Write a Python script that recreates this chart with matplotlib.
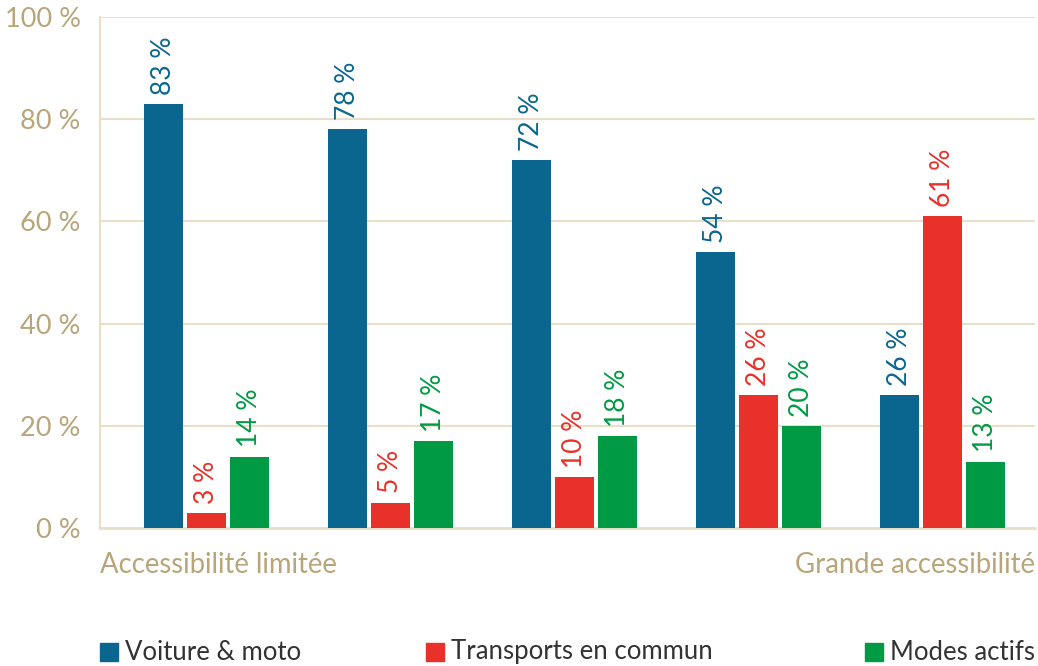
import matplotlib.pyplot as plt
from matplotlib.patches import Rectangle

plt.rcParams['font.family'] = ['Lato', 'DejaVu Sans']

# data
groups = [0, 1, 2, 3, 4]
series_names = ['Voiture & moto', 'Transports en commun', 'Modes actifs']
voiture = [83, 78, 72, 54, 26]
transports = [3, 5, 10, 26, 61]
actifs = [14, 17, 18, 20, 13]
yticks = [0, 20, 40, 60, 80, 100]

colors = ['#0b668f', '#e8312a', '#009a44']
beige = '#b9a57a'
grid = '#e8dfc8'

fig = plt.figure(figsize=(10.38, 6.66), dpi=100)
ax = fig.add_axes([0.0963, 0.207, 0.9007, 0.7675])

w = 0.212
off = 0.234
for i, (vals, c) in enumerate(zip([voiture, transports, actifs], colors)):
    xs = [g + (i - 1) * off for g in groups]
    ax.bar(xs, vals, width=w, color=c, zorder=3)
    for x, v in zip(xs, vals):
        ax.text(x, v + 1.8, f'{v} %', rotation=90, ha='center', va='bottom',
                color=c, fontsize=19, zorder=4)

ax.set_xlim(-0.58, 4.5)
ax.set_ylim(0, 100)
ax.set_yticks(yticks)
ax.set_yticklabels([f'{t} %' for t in yticks], color=beige, fontsize=19.5)
ax.set_xticks([])
ax.tick_params(axis='y', length=0, pad=14)
for t in yticks[1:]:
    ax.axhline(t, color=grid, lw=1.5, zorder=1)
for s in ['top', 'right']:
    ax.spines[s].set_visible(False)
ax.spines['left'].set_color(grid)
ax.spines['bottom'].set_color(grid)
ax.spines['left'].set_linewidth(1.5)
ax.spines['bottom'].set_linewidth(2)

fig.text(0.0963, 1 - 565 / 666, 'Accessibilité limitée', color=beige,
         fontsize=19.8, ha='left', va='center')
fig.text(0.997, 1 - 565 / 666, 'Grande accessibilité', color=beige,
         fontsize=19.8, ha='right', va='center')

# legend
leg_x = [100, 426, 865]
for name, c, lx in zip(series_names, colors, leg_x):
    fig.patches.append(Rectangle((lx / 1038, 1 - 661 / 666), 18 / 1038, 18 / 666,
                                 color=c, transform=fig.transFigure, figure=fig))
    fig.text((lx + 25) / 1038, 1 - 652 / 666, name, color='#333333',
             fontsize=18.5, ha='left', va='center')

fig.savefig('out.png', dpi=100)
